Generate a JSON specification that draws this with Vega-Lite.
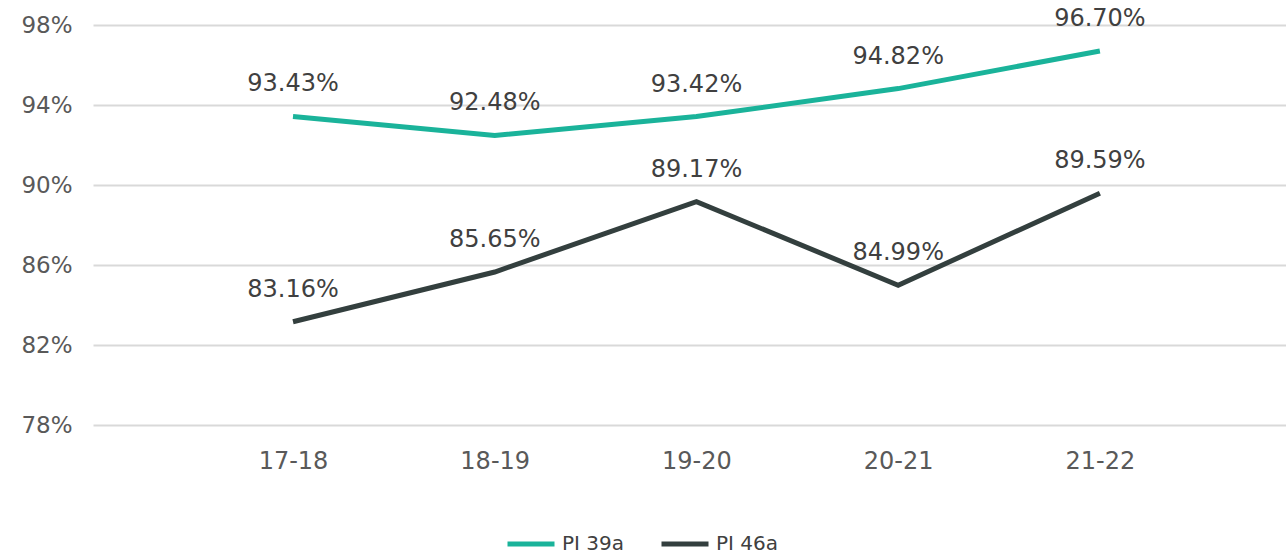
{
  "$schema": "https://vega.github.io/schema/vega-lite/v6.json",
  "width": 1193,
  "height": 400,
  "autosize": {"type": "none"},
  "padding": {"left": 93, "top": 25, "right": 0, "bottom": 130},
  "background": "white",
  "config": {
    "font": "DejaVu Sans",
    "view": {"stroke": null}
  },
  "data": {
    "values": [
      {"year": "17-18", "series": "PI 39a", "value": 93.43},
      {"year": "18-19", "series": "PI 39a", "value": 92.48},
      {"year": "19-20", "series": "PI 39a", "value": 93.42},
      {"year": "20-21", "series": "PI 39a", "value": 94.82},
      {"year": "21-22", "series": "PI 39a", "value": 96.70},
      {"year": "17-18", "series": "PI 46a", "value": 83.16},
      {"year": "18-19", "series": "PI 46a", "value": 85.65},
      {"year": "19-20", "series": "PI 46a", "value": 89.17},
      {"year": "20-21", "series": "PI 46a", "value": 84.99},
      {"year": "21-22", "series": "PI 46a", "value": 89.59}
    ]
  },
  "transform": [
    {"calculate": "format(datum.value, '.2f') + '%'", "as": "label"}
  ],
  "encoding": {
    "x": {
      "field": "year", "type": "ordinal",
      "scale": {"type": "point", "padding": 0.957, "align": 0.518},
      "axis": {"title": null, "domain": false, "ticks": false, "labelAngle": 0,
               "labelFontSize": 24, "labelColor": "#595959", "labelPadding": 24, "grid": false}
    },
    "y": {
      "field": "value", "type": "quantitative",
      "scale": {"domain": [78, 98], "nice": false, "zero": false},
      "axis": {"title": null, "values": [78, 82, 86, 90, 94, 98], "labelExpr": "datum.value + '%'",
               "domain": false, "ticks": false, "labelFontSize": 23, "labelColor": "#595959",
               "labelPadding": 21, "gridColor": "#d9d9d9", "gridWidth": 2}
    },
    "color": {
      "field": "series", "type": "nominal",
      "scale": {"domain": ["PI 39a", "PI 46a"], "range": ["#1ab39a", "#333f3e"]},
      "legend": {
        "title": null, "orient": "none", "direction": "horizontal",
        "legendX": 412, "legendY": 493,
        "symbolType": "stroke", "symbolSize": 2209, "symbolStrokeWidth": 5,
        "labelFontSize": 20, "labelColor": "#404040", "labelOffset": 5, "columnPadding": 26
      }
    }
  },
  "layer": [
    {"mark": {"type": "line", "strokeWidth": 5}},
    {
      "mark": {"type": "text", "dy": -25, "baseline": "alphabetic", "fontSize": 24},
      "encoding": {
        "text": {"field": "label", "type": "nominal"},
        "color": {"value": "#404040"}
      }
    }
  ]
}
